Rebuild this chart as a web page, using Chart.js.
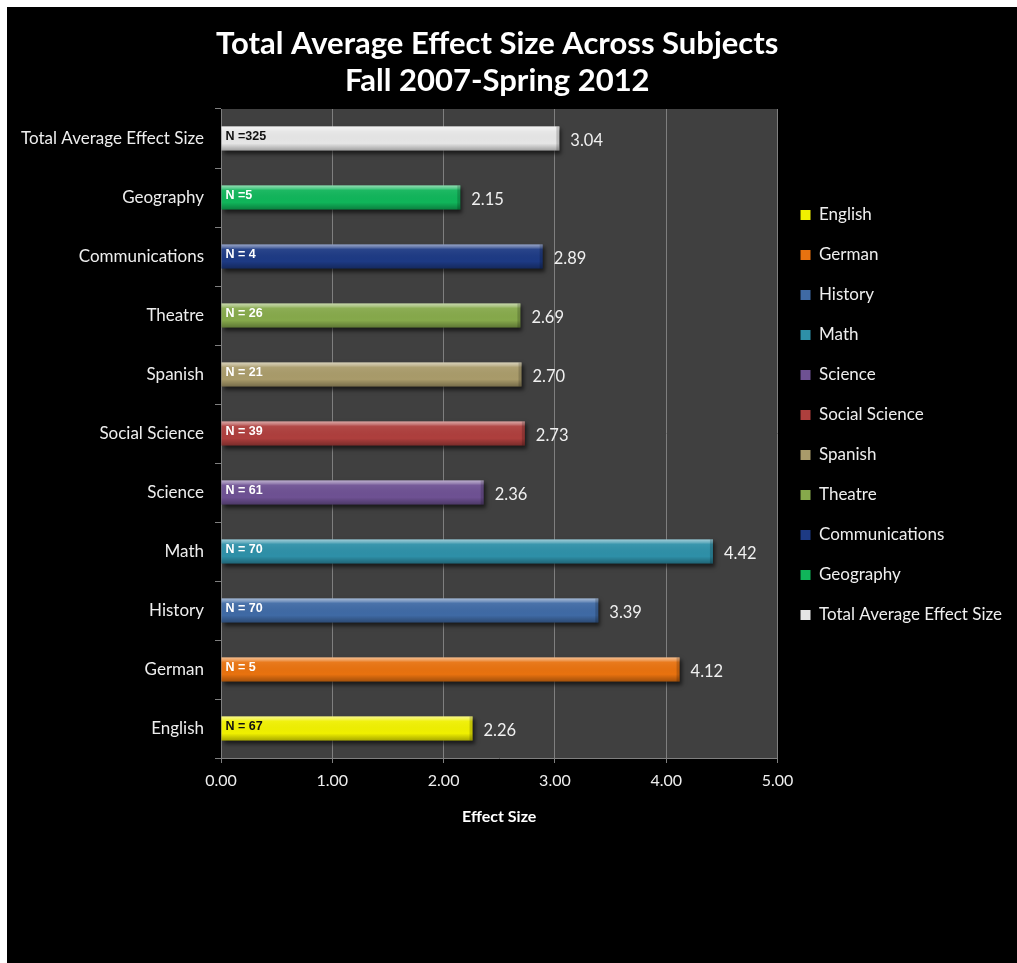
<!DOCTYPE html>
<html>
<head>
<meta charset="utf-8">
<script src="https://cdn.jsdelivr.net/npm/chart.js@4.4.0/dist/chart.umd.min.js"></script>
<style>
    html, body { margin: 0; padding: 0; background: #fff; }
    #wrap { position: absolute; left: 7px; top: 7px; width: 1010px; height: 956px; background: #000; }
    canvas { display: block; }
</style>
</head>
<body>
<div id="wrap"><canvas id="effectChart" width="1010" height="956"></canvas></div>
<script>
const titleLines = ['Total Average Effect Size Across Subjects', 'Fall 2007-Spring 2012'];
const subjects = ['English', 'German', 'History', 'Math', 'Science', 'Social Science', 'Spanish',
    'Theatre', 'Communications', 'Geography', 'Total Average Effect Size'];
const effectSizes = [2.26, 4.12, 3.39, 4.42, 2.36, 2.73, 2.70, 2.69, 2.89, 2.15, 3.04];
const sampleLabels = ['N = 67', 'N = 5', 'N = 70', 'N = 70', 'N = 61', 'N = 39', 'N = 21',
    'N = 26', 'N = 4', 'N =5', 'N =325'];
const barColors = ['#f0f000', '#e8720f', '#3f6aa5', '#2e90a8', '#6e5193', '#ae3f3d', '#a99b6a',
    '#86a94b', '#1d3a84', '#10b55a', '#e6e6e6'];
const nTextColors = ['#111', '#fff', '#fff', '#fff', '#fff', '#fff', '#fff',
    '#fff', '#fff', '#fff', '#111'];
const axisTitle = 'Effect Size';

const FONT = 'Lato';

// one series per subject, like the original workbook
let datasets = subjects.map((name, i) => ({
    label: name,
    data: subjects.map((s, j) => j === i ? effectSizes[i] : null),
    backgroundColor: barColors[i],
    borderWidth: 0,
    grouped: false,
    barPercentage: 0.41,
    categoryPercentage: 1
}));

const barStyle = {
    id: 'barStyle',
    beforeDraw(chart) {
        const {ctx, chartArea: a} = chart;
        ctx.save();
        ctx.fillStyle = '#404040';
        ctx.fillRect(a.left, a.top, a.right - a.left, a.bottom - a.top);
        ctx.restore();
    },
    beforeDatasetsDraw(chart) {
        const ctx = chart.ctx;
        ctx.save();
        ctx.shadowColor = 'rgba(0,0,0,0.6)';
        ctx.shadowBlur = 4;
        ctx.shadowOffsetX = 2;
        ctx.shadowOffsetY = 3;
    },
    afterDatasetsDraw(chart) {
        const ctx = chart.ctx;
        ctx.restore();
        ctx.save();
        chart.data.datasets.forEach((ds, i) => {
            const bar = chart.getDatasetMeta(i).data[i];
            if (!bar) return;
            const top = bar.y - bar.height / 2;
            const h = bar.height;
            const left = bar.base;
            const w = bar.x - bar.base;
            // bevel-ish shading
            let g = ctx.createLinearGradient(0, top, 0, top + h);
            g.addColorStop(0, 'rgba(255,255,255,0.55)');
            g.addColorStop(0.12, 'rgba(255,255,255,0.3)');
            g.addColorStop(0.2, 'rgba(255,255,255,0.06)');
            g.addColorStop(0.7, 'rgba(0,0,0,0)');
            g.addColorStop(1, 'rgba(0,0,0,0.3)');
            ctx.fillStyle = g;
            ctx.fillRect(left, top, w, h);
            ctx.fillStyle = 'rgba(0,0,0,0.18)';
            ctx.fillRect(bar.x - 3, top, 3, h);

            ctx.textAlign = 'left';
            ctx.textBaseline = 'middle';
            ctx.font = 'bold 12.5px "Liberation Sans Narrow", "Liberation Sans", Arial';
            ctx.fillStyle = nTextColors[i];
            ctx.fillText(sampleLabels[i], left + 4, bar.y - 2);

            ctx.font = '16.5px ' + FONT;
            ctx.fillStyle = '#f0f0f0';
            ctx.fillText(effectSizes[i].toFixed(2), bar.x + 11, bar.y + 2);
        });
        ctx.restore();
    },
    afterDraw(chart) {
        const {ctx, chartArea: a} = chart;
        ctx.save();
        ctx.fillStyle = '#fff';
        ctx.textAlign = 'center';
        ctx.textBaseline = 'middle';
        ctx.font = 'bold 31px ' + FONT;
        let cx = (a.left + a.right) / 2 - 2;
        ctx.fillText(titleLines[0], cx, 37);
        ctx.fillText(titleLines[1], cx, 74);
        ctx.restore();
    }
};

let ctx = document.getElementById('effectChart');
let effectChart = new Chart(ctx, {
    type: 'bar',
    data: {
        labels: subjects,
        datasets: datasets
    },
    options: {
        indexAxis: 'y',
        responsive: false,
        animation: false,
        layout: {
            padding: {top: 102, bottom: 133, left: 0, right: 5}
        },
        scales: {
            x: {
                min: 0,
                max: 5,
                afterFit: (scale) => { scale.height = 72; },
                grid: {color: '#7f7f7f', tickLength: 5},
                border: {color: '#7f7f7f'},
                ticks: {
                    stepSize: 1,
                    padding: 8,
                    color: '#eeeeee',
                    font: {family: FONT, size: 16},
                    callback: (v) => Number(v).toFixed(2)
                },
                title: {
                    display: true,
                    text: axisTitle,
                    color: '#ffffff',
                    font: {family: FONT, size: 16, weight: 'bold'},
                    padding: {top: 19, bottom: 4}
                }
            },
            y: {
                reverse: true,
                afterFit: (scale) => { scale.width = 214; },
                grid: {color: '#7f7f7f', drawOnChartArea: false, tickLength: 6},
                border: {color: '#7f7f7f'},
                ticks: {
                    padding: 11,
                    color: '#eeeeee',
                    font: {family: FONT, size: 17}
                }
            }
        },
        plugins: {
            legend: {
                display: true,
                position: 'right',
                fullSize: false,
                align: 'start',
                title: {
                    display: true,
                    text: '',
                    font: {size: 12},
                    padding: {top: 0, bottom: 60}
                },
                labels: {
                    boxWidth: 10,
                    boxHeight: 10,
                    padding: 23,
                    color: '#eeeeee',
                    font: {family: FONT, size: 17}
                }
            },
            title: {display: false},
            tooltip: {enabled: false}
        }
    },
    plugins: [barStyle]
});
</script>
</body>
</html>
